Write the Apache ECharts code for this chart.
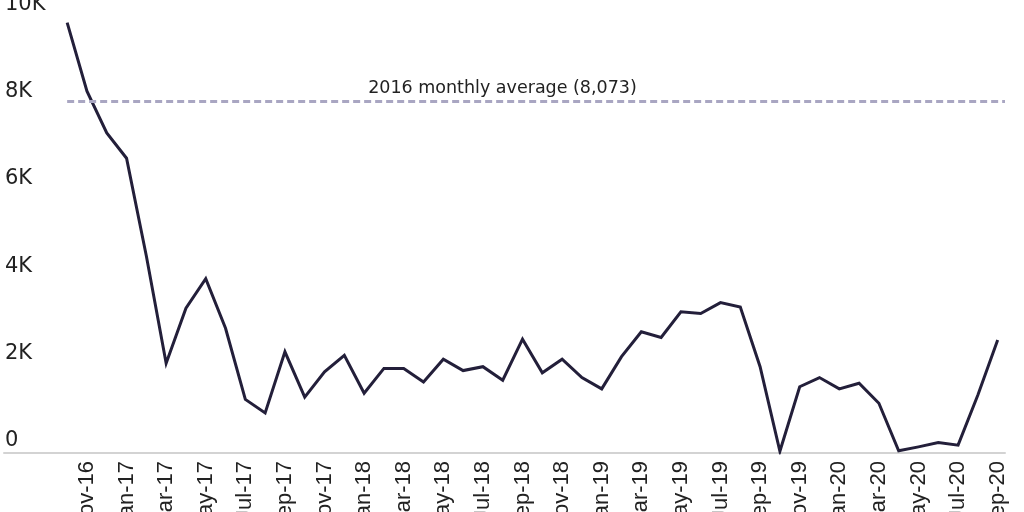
<!DOCTYPE html>
<html>
<head>
<meta charset="utf-8">
<script src="https://cdn.jsdelivr.net/npm/echarts@6/dist/echarts.min.js"></script>
<style>
html,body{margin:0;padding:0;background:#fff;}
#chart{width:1024px;height:512px;}
</style>
</head>
<body>
<div id="chart"></div>
<script>
// Monthly values, Oct-16 .. Sep-20
const months = [
  'Oct-16','Nov-16','Dec-16',
  'Jan-17','Feb-17','Mar-17','Apr-17','May-17','Jun-17','Jul-17','Aug-17','Sep-17','Oct-17','Nov-17','Dec-17',
  'Jan-18','Feb-18','Mar-18','Apr-18','May-18','Jun-18','Jul-18','Aug-18','Sep-18','Oct-18','Nov-18','Dec-18',
  'Jan-19','Feb-19','Mar-19','Apr-19','May-19','Jun-19','Jul-19','Aug-19','Sep-19','Oct-19','Nov-19','Dec-19',
  'Jan-20','Feb-20','Mar-20','Apr-20','May-20','Jun-20','Jul-20','Aug-20','Sep-20'
];
const values = [
  9870, 8300, 7340,
  6760, 4520, 2060, 3320, 4000, 2860, 1230, 920, 2320, 1280, 1860, 2240,
  1370, 1940, 1940, 1630, 2150, 1890, 1980, 1670, 2610, 1840, 2150, 1730,
  1470, 2210, 2780, 2650, 3240, 3200, 3450, 3350, 1980, 40, 1520, 1730,
  1470, 1600, 1140, 50, 140, 240, 180, 1330, 2590
];
const avg2016 = 8073;
const avgLabel = '2016 monthly average (8,073)';
const yTicks = [0, 2000, 4000, 6000, 8000, 10000];

const FONT = 'DejaVu Sans';
const XFONT = 'Liberation Sans';
const xMin = -3.19, xMax = 47.37;
const labelIdx = months.map((m, i) => i).filter(i => i % 2 === 1);

const chart = echarts.init(document.getElementById('chart'), null, {renderer: 'canvas'});
chart.setOption({
  animation: false,
  backgroundColor: '#fff',
  grid: {left: 4, right: 19, top: 17, bottom: 59, containLabel: false, outerBoundsMode: 'none'},
  xAxis: {
    type: 'value',
    min: xMin, max: xMax,
    axisLine: {show: true, onZero: false, lineStyle: {color: '#d3d3d3', width: 2}},
    axisTick: {show: false},
    splitLine: {show: false},
    axisLabel: {
      customValues: labelIdx,
      rotate: 90,
      margin: 8,
      fontFamily: XFONT,
      fontSize: 22,
      color: '#222',
      formatter: v => months[Math.round(v)] || ''
    }
  },
  yAxis: {
    type: 'value',
    min: yTicks[0], max: yTicks[yTicks.length - 1], interval: 2000,
    axisLine: {show: false},
    axisTick: {show: false},
    splitLine: {show: false},
    axisLabel: {
      inside: true,
      margin: 1,
      align: 'left',
      verticalAlign: 'bottom',
      padding: [0, 0, 2, 0],
      fontFamily: FONT,
      fontSize: 21,
      color: '#222',
      formatter: v => v === 0 ? '0' : (v / 1000) + 'K'
    }
  },
  series: [{
    type: 'line',
    data: values.map((v, i) => [i, v]),
    showSymbol: false,
    symbol: 'none',
    lineStyle: {color: '#231f3a', width: 3, join: 'miter'},
    markLine: {
      silent: true,
      symbol: ['none', 'none'],
      lineStyle: {color: '#a9a6c2', width: 3, type: [7, 4]},
      label: {
        show: true,
        position: 'insideStartTop',
        distance: [301, 4],
        formatter: avgLabel,
        fontFamily: FONT,
        fontSize: 17.5,
        color: '#222'
      },
      data: [[{coord: [0, avg2016]}, {coord: [xMax, avg2016]}]]
    }
  }]
});
</script>
</body>
</html>
